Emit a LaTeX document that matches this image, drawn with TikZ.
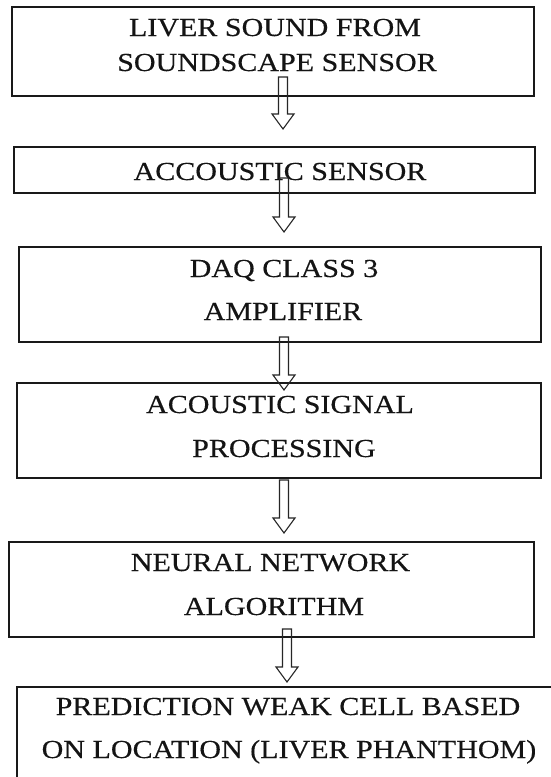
\documentclass[tikz,border=0pt]{standalone}
\usepackage{fontspec}
\setmainfont[FakeBold=0.35]{Liberation Serif}
\usetikzlibrary{calc}
\newcommand{\sx}[1]{\scalebox{1.155}[1]{#1}}
\tikzset{
  box/.style={draw=black!90, line width=1.8pt, rectangle, inner sep=0pt, outer sep=0pt, anchor=north west},
  lbl/.style={anchor=base, inner sep=0pt, text=black!92, font=\fontsize{26}{30}\selectfont},
  hollow/.style={draw=black!85, line width=1.1pt, line join=miter,
    to path={let \p1=(\tikztostart), \p2=(\tikztotarget) in
      (\x2-4.5pt,\y1) -- (\x2+4.5pt,\y1) -- (\x2+4.5pt,\y2+15pt) -- (\x2+11pt,\y2+15pt)
      -- (\x2,\y2) -- (\x2-11pt,\y2+15pt) -- (\x2-4.5pt,\y2+15pt) -- cycle}}
}
\begin{document}
\begin{tikzpicture}[x=1pt,y=-1pt]
\useasboundingbox (0,0) rectangle (551,777);
\clip (0,0) rectangle (551,777);
\fill[white] (0,0) rectangle (551,777);

\node[box, minimum width=522pt, minimum height=89pt] (b1) at (12,7) {};
\node[box, minimum width=521pt, minimum height=46pt] (b2) at (14,147) {};
\node[box, minimum width=522pt, minimum height=95pt] (b3) at (19,247) {};
\node[box, minimum width=524pt, minimum height=95pt] (b4) at (17,383) {};
\node[box, minimum width=525pt, minimum height=95pt] (b5) at (9,542) {};
\node[box, minimum width=560pt, minimum height=120pt] (b6) at (17,687) {};

\node[lbl] (t1a) at (275,36) {\sx{LIVER SOUND FROM}};
\node[lbl] (t1b) at (277,71) {\sx{SOUNDSCAPE SENSOR}};
\node[lbl] (t2) at (280,180) {\sx{ACCOUSTIC SENSOR}};
\node[lbl] (t3a) at (284,277) {\sx{DAQ CLASS 3}};
\node[lbl] (t3b) at (283,320) {\sx{AMPLIFIER}};
\node[lbl] (t4a) at (280,413) {\sx{ACOUSTIC SIGNAL}};
\node[lbl] (t4b) at (284,457) {\sx{PROCESSING}};
\node[lbl] (t5a) at (270.5,571) {\sx{NEURAL NETWORK}};
\node[lbl] (t5b) at (274,615) {\sx{ALGORITHM}};
\node[lbl] (t6a) at (288,715) {\sx{PREDICTION WEAK CELL BASED}};
\node[lbl] (t6b) at (289,758) {\sx{ON LOCATION (LIVER PHANTHOM)}};

\draw[hollow] ($(b1.south)+(10,-19)$) to ($(b2.north)+(8.5,-18)$);
\draw[hollow] ($(b2.south)+(9.5,-15)$) to ($(b3.north)+(4,-15)$);
\draw[hollow] ($(b3.south)+(4,-5)$) to ($(b4.north)+(5,7)$);
\draw[hollow] ($(b4.south)+(5,2)$) to ($(b5.north)+(12.5,-9)$);
\draw[hollow] ($(b5.south)+(15.5,-8)$) to ($(b6.north)+(-10,-5)$);
\end{tikzpicture}
\end{document}
